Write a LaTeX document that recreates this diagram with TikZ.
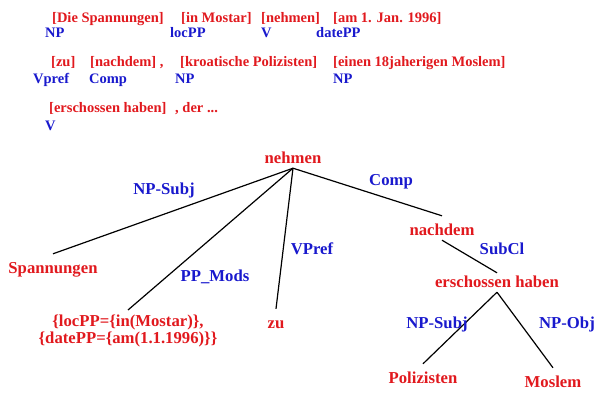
\documentclass[tikz,border=0pt]{standalone}
\usepackage{fontspec}
\setmainfont{Liberation Serif}
\usetikzlibrary{positioning}
\definecolor{wred}{RGB}{225,25,30}
\definecolor{wblue}{RGB}{25,25,205}

\begin{document}
\begin{tikzpicture}[x=1pt,y=1pt,
    word/.style={text=wred, font=\fontsize{14.5}{16}\selectfont\bfseries, inner sep=0pt, anchor=base west},
    tag/.style={text=wblue, font=\fontsize{14.5}{16}\selectfont\bfseries, inner sep=0pt, anchor=base west},
    tn/.style={text=wred, font=\fontsize{16.7}{19}\selectfont\bfseries, inner sep=2pt, text height=17pt, text depth=3pt, anchor=base},
    rel/.style={text=wblue, font=\fontsize{16.7}{19}\selectfont\bfseries, inner sep=0pt, anchor=base},
    edge/.style={line width=1.2pt}]

                \useasboundingbox (0,0) rectangle (597,392);

                % annotated sentence
                \node[word] (W1) at (52,369) {[Die Spannungen]};
                \node[word] (W2) at (181,369) {[in Mostar]};
                \node[word] (W3) at (261,369) {[nehmen]};
                \node[word] (W4) at (333,369) {[am 1. Jan. 1996]};
                \node[tag] (T1) at (45,355) {NP};
                \node[tag] (T2) at (170,355) {locPP};
                \node[tag] (T3) at (261,355) {V};
                \node[tag] (T4) at (316,355) {datePP};

                \node[word] (W5) at (51,326) {[zu]};
                \node[word] (W6) at (90,326) {[nachdem] ,};
                \node[word] (W7) at (180,326) {[kroatische Polizisten]};
                \node[word] (W8) at (333,326) {[einen 18jaherigen Moslem]};
                \node[tag] (T5) at (33,309) {Vpref};
                \node[tag] (T6) at (89,309) {Comp};
                \node[tag] (T7) at (175,309) {NP};
                \node[tag] (T8) at (333,309) {NP};

                \node[word] (W9) at (49,280) {[erschossen haben]};
                \node[word] (W10) at (175,280) {, der ...};
                \node[tag] (T9) at (45,262) {V};

                % dependency tree
                \node[tn] (nehmen) at (293,229) {nehmen};
                \node[tn] (spann) at (53,119) {Spannungen};
                \node[text=wred, font=\fontsize{16.7}{17}\selectfont\bfseries, align=center, inner sep=0pt, anchor=north] (mods) at (128,77) {\{locPP=\{in(Mostar)\},\\\{datePP=\{am(1.1.1996)\}\}};
                \node[tn] (zu) at (276,64) {zu};
                \node[tn] (nachdem) at (442,157) {nachdem};
                \node[tn] (ersch) at (497,105) {erschossen haben};
                \node[tn] (poliz) at (423,9) {Polizisten};
                \node[tn] (moslem) at (553,5) {Moslem};

                \draw[edge] (nehmen.south) -- (spann.north);
                \draw[edge] (nehmen.south) -- ([yshift=5pt]mods.north);
                \draw[edge] (nehmen.south) -- (zu.north);
                \draw[edge] (nehmen.south) -- (nachdem.north);
                \draw[edge] (nachdem.south) -- ([yshift=-5pt]ersch.north);
                \draw[edge] (ersch.south) -- (poliz.north);
                \draw[edge] (ersch.south) -- (moslem.north);

                \node[rel] (r1) at (164,198) {NP-Subj};
                \node[rel] (r2) at (215,111) {PP\_Mods};
                \node[rel] (r3) at (312,138) {VPref};
                \node[rel] (r4) at (391,207) {Comp};
                \node[rel] (r5) at (502,138) {SubCl};
                \node[rel] (r6) at (437,64) {NP-Subj};
                \node[rel] (r7) at (567,64) {NP-Obj};

            \end{tikzpicture}
\end{document}
